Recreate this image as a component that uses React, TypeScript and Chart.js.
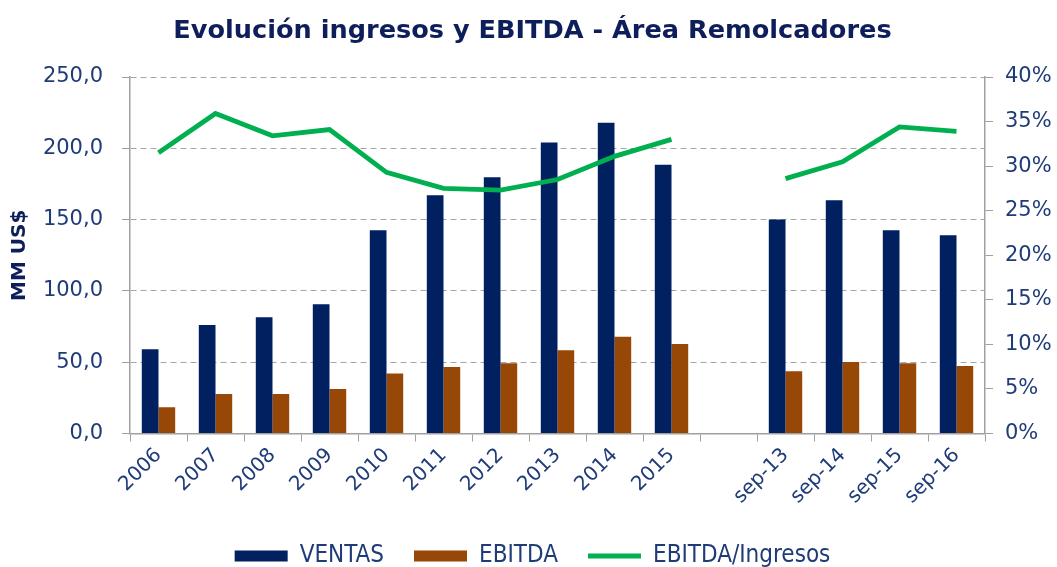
import React, { useEffect, useRef } from 'react';
import { Chart, registerables } from 'chart.js';

Chart.register(...registerables);

const categories = ['2006', '2007', '2008', '2009', '2010', '2011', '2012', '2013', '2014', '2015', '', 'sep-13', 'sep-14', 'sep-15', 'sep-16'];
const ventas = [59.0, 76.1, 81.5, 90.6, 142.5, 167.0, 179.7, 204.0, 217.9, 188.5, null, 150.0, 163.5, 142.5, 139.0];
const ebitda = [18.4, 27.7, 27.7, 31.2, 42.0, 46.6, 49.2, 58.3, 67.9, 62.8, null, 43.6, 50.1, 49.2, 47.3];
const ratio = [31.5, 35.9, 33.4, 34.1, 29.3, 27.5, 27.3, 28.5, 31.1, 33.0, null, 28.6, 30.5, 34.4, 33.9];
const seriesNames = ['VENTAS', 'EBITDA', 'EBITDA/Ingresos'];
const titleText = 'Evolución ingresos y EBITDA - Área Remolcadores';
const yTitle = 'MM US$';

const NAVY = '#002060';
const BROWN = '#974706';
const GREEN = '#00B050';
const TEXT = '#1F3C78';
const TITLE = '#0E1E5B';
const AXIS = '#A0A0A0';
const FONT = '"DejaVu Sans", Verdana, sans-serif';

const CHART_LEFT = 130;
const CHART_RIGHT = 985;
const CHART_BOTTOM = 433.5;
const LEGEND_TOP = 514;

export default function App() {
  const ref = useRef<HTMLCanvasElement>(null);
  useEffect(() => {
    document.body.style.margin = '0';
    const chart = new Chart(ref.current!, {
      type: 'bar',
      data: {
        labels: categories,
        datasets: [
          { type: 'line', label: seriesNames[2], data: ratio, yAxisID: 'y1', borderColor: GREEN, backgroundColor: GREEN, borderWidth: 4.8, pointRadius: 0, tension: 0, spanGaps: false, order: 0 },
          { type: 'bar', label: seriesNames[0], data: ventas, yAxisID: 'y', backgroundColor: NAVY, categoryPercentage: 0.586, barPercentage: 1, order: 1 },
          { type: 'bar', label: seriesNames[1], data: ebitda, yAxisID: 'y', backgroundColor: BROWN, categoryPercentage: 0.586, barPercentage: 1, order: 1 },
        ] as any,
      },
      options: {
        animation: false,
        responsive: false,
        maintainAspectRatio: false,
        layout: { padding: { top: 0, left: 8, right: 0, bottom: -11 } },
        plugins: {
          tooltip: { enabled: false },
          title: {
            display: true,
            text: titleText,
            color: TITLE,
            font: { family: FONT, size: 25.6, weight: 'bold', lineHeight: 1.2 },
            padding: { top: 15.5, bottom: 30.8 },
          },
          legend: {
            position: 'bottom',
            labels: {
              usePointStyle: true,
              pointStyleWidth: 53,
              boxHeight: 11,
              padding: 30,
              color: TEXT,
              font: { family: '"Liberation Sans Narrow", "DejaVu Sans Condensed", sans-serif', size: 24, lineHeight: 1 },
              generateLabels: () => [
                { text: seriesNames[0], fillStyle: NAVY, strokeStyle: NAVY, lineWidth: 0, pointStyle: 'rect', hidden: false, datasetIndex: 1, fontColor: TEXT },
                { text: seriesNames[1], fillStyle: BROWN, strokeStyle: BROWN, lineWidth: 0, pointStyle: 'rect', hidden: false, datasetIndex: 2, fontColor: TEXT },
                { text: seriesNames[2], fillStyle: GREEN, strokeStyle: GREEN, lineWidth: 4.8, pointStyle: 'line', hidden: false, datasetIndex: 0, fontColor: TEXT },
              ] as any,
            },
          },
        },
        scales: {
          x: {
            offset: true,
            grid: { display: true, offset: true, drawOnChartArea: false, drawTicks: true, tickLength: 8, tickColor: AXIS, color: AXIS },
            border: { display: true, color: AXIS, width: 1.5 },
            ticks: { autoSkip: false, maxRotation: 45, minRotation: 45, color: TEXT, padding: 2, font: { family: FONT, size: 20 } },
            afterFit: (s: any) => { s.height = LEGEND_TOP - CHART_BOTTOM; },
          },
          y: {
            position: 'left',
            min: 0,
            max: 250,
            ticks: { stepSize: 50, color: TEXT, padding: 19, font: { family: FONT, size: 21 }, callback: (v: any) => Number(v).toFixed(1).replace('.', ',') },
            grid: { color: '#A6A6A6', lineWidth: 1, drawTicks: true, tickLength: 8, tickColor: AXIS },
            border: { display: true, color: AXIS, width: 1.5, dash: [6, 4] },
            title: { display: true, text: yTitle, color: TITLE, font: { family: FONT, size: 20, weight: 'bold', lineHeight: 1.2 }, padding: { top: 0, bottom: 0 } },
            afterFit: (s: any) => { s.width = CHART_LEFT - 8; },
          },
          y1: {
            position: 'right',
            min: 0,
            max: 40,
            ticks: { stepSize: 5, color: TEXT, padding: 12, font: { family: FONT, size: 21 }, callback: (v: any) => `${v}%` },
            grid: { drawOnChartArea: false, drawTicks: true, tickLength: 8, tickColor: AXIS },
            border: { display: true, color: AXIS, width: 1.5 },
            afterFit: (s: any) => { s.width = 1057 - CHART_RIGHT; },
          },
        },
      } as any,
    });
    return () => chart.destroy();
  }, []);
  return (
    <div style={{ position: 'fixed', left: 0, top: 0, width: 1057, height: 567, background: '#fff' }}>
      <canvas ref={ref} width={1057} height={567} style={{ width: 1057, height: 567 }} />
    </div>
  );
}
